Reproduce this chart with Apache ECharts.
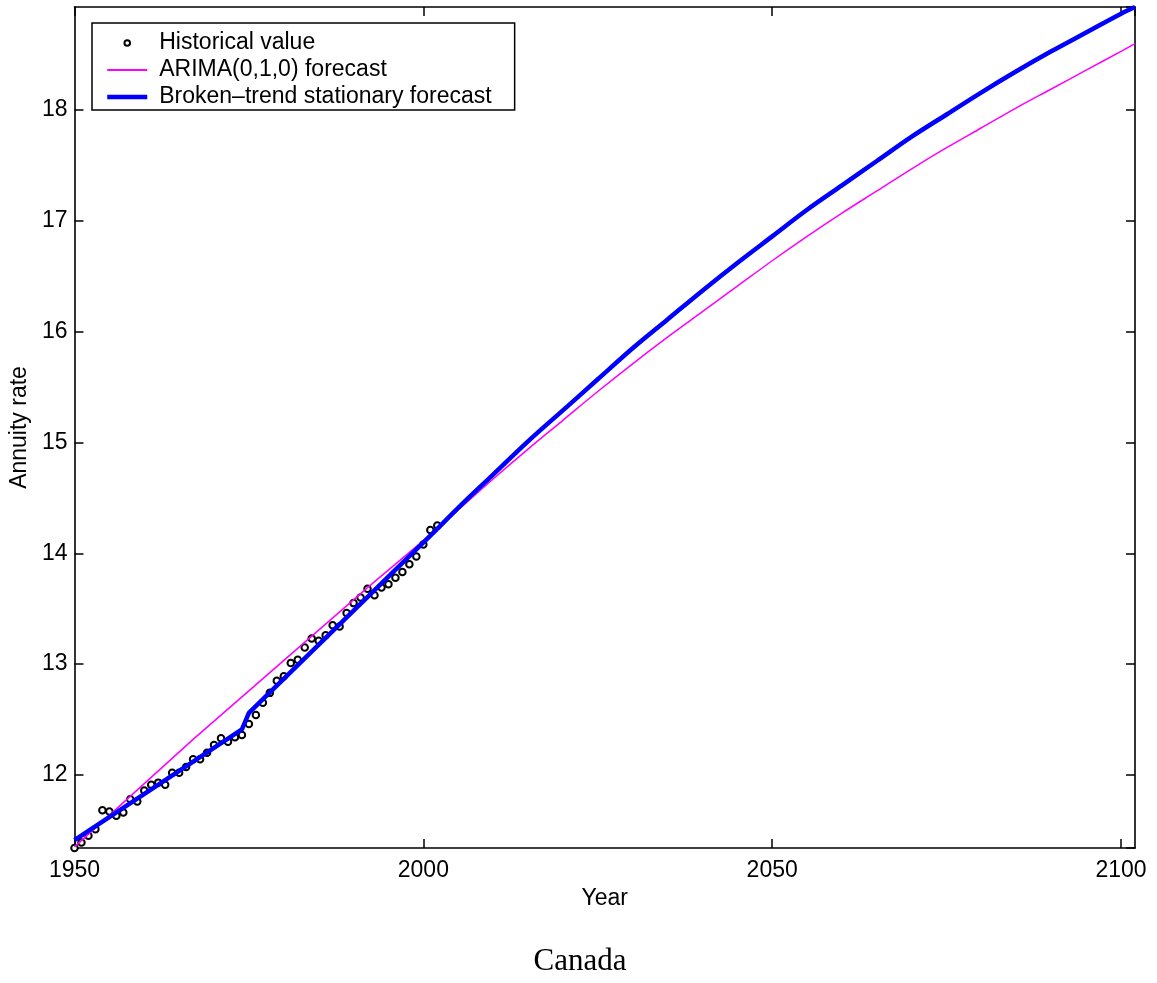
<!DOCTYPE html>
<html>
<head>
<meta charset="utf-8">
<title>Canada annuity rate forecasts</title>
<script src="https://cdn.jsdelivr.net/npm/echarts@6/dist/echarts.min.js"></script>
<style>
  html, body { margin: 0; padding: 0; background: #fff; }
  #chart { width: 1157px; height: 983px; }
</style>
</head>
<body>
<div id="chart"></div>
<script>
// Historical annuity rates, one value per year starting at histStartYear
const histStartYear = 1950;
const histValues = [
  11.34, 11.39, 11.45, 11.51, 11.68, 11.67, 11.63, 11.66, 11.78, 11.76,
  11.86, 11.91, 11.93, 11.91, 12.02, 12.02, 12.07, 12.14, 12.14, 12.20,
  12.27, 12.33, 12.30, 12.34, 12.36, 12.46, 12.54, 12.65, 12.74, 12.85,
  12.89, 13.01, 13.04, 13.15, 13.23, 13.21, 13.26, 13.35, 13.34, 13.46,
  13.55, 13.60, 13.68, 13.62, 13.69, 13.72, 13.78, 13.83, 13.90, 13.97,
  14.08, 14.21, 14.25
];

// In-sample fitted paths
const arimaFitYears  = [1950, 1967, 1992];
const arimaFitValues = [11.35, 12.32, 13.69];
const trendFitYears  = [1950, 1974, 1975];
const trendFitValues = [11.41, 12.41, 12.56];

// Forecast horizon
const forecastYears = [2002, 2005, 2010, 2015, 2020, 2025, 2030, 2035, 2040, 2045, 2050,
                       2055, 2060, 2065, 2070, 2075, 2080, 2085, 2090, 2095, 2100, 2102];
const arimaForecast = [14.22, 14.39, 14.67, 14.94, 15.20, 15.46, 15.71, 15.95, 16.18, 16.41, 16.64,
                       16.86, 17.07, 17.27, 17.47, 17.66, 17.84, 18.02, 18.19, 18.36, 18.53, 18.60];
const trendForecast = [14.22, 14.41, 14.71, 15.01, 15.29, 15.57, 15.85, 16.11, 16.37, 16.62, 16.86,
                       17.10, 17.32, 17.54, 17.76, 17.96, 18.16, 18.35, 18.53, 18.70, 18.87, 18.93];

// Axis ranges and tick step
const xMin = 1950, xMax = 2102, xStep = 50;
const yMin = 11.34, yMax = 18.93;

const seriesNames = ['Historical value', 'ARIMA(0,1,0) forecast', 'Broken\u2013trend stationary forecast'];

const pairs = (xs, ys) => xs.map((x, i) => [x, ys[i]]);
const histData = histValues.map((v, i) => [histStartYear + i, v]);
// fitted part runs up to the forecast origin, the forecast part continues from it
const arimaFitData = pairs(arimaFitYears, arimaFitValues).concat([[forecastYears[0], arimaForecast[0]]]);
const trendFitData = pairs(trendFitYears, trendFitValues).concat([[forecastYears[0], trendForecast[0]]]);
const arimaFcData = pairs(forecastYears, arimaForecast);
const trendFcData = pairs(forecastYears, trendForecast);

const sans = '"Liberation Sans", Arial, Helvetica, sans-serif';
const black = '#000';
const magenta = '#ff00ff';
const blue = '#0000ff';

const frameAxis = (extra) => Object.assign({
  type: 'value',
  axisLine: { show: true, onZero: false, lineStyle: { color: black, width: 1.6 } },
  axisTick: { show: true, inside: true, length: 9, lineStyle: { color: black, width: 1.5 } },
  splitLine: { show: false },
  axisLabel: { show: false }
}, extra);

const lineSeries = (name, data, color, width, smooth, z) => ({
  name, type: 'line', data, symbol: 'none',
  smooth: smooth ? 0.35 : false,
  lineStyle: { color, width }, itemStyle: { color }, z
});

const chart = echarts.init(document.getElementById('chart'), null, { renderer: 'canvas' });

chart.setOption({
  backgroundColor: '#fff',
  animation: false,
  textStyle: { fontFamily: sans },
  grid: { left: 71, right: 22, top: 7, bottom: 135, containLabel: false },
  xAxis: [
    frameAxis({
      position: 'bottom', min: xMin, max: xMax, interval: xStep,
      name: 'Year', nameLocation: 'middle', nameGap: 37,
      nameTextStyle: { fontSize: 23, color: black, fontFamily: sans },
      axisLabel: { show: true, margin: 11, fontSize: 23, color: black, fontFamily: sans,
                   showMaxLabel: false, formatter: (v) => String(v) }
    }),
    frameAxis({ position: 'top', min: xMin, max: xMax, interval: xStep })
  ],
  yAxis: [
    frameAxis({
      position: 'left', min: yMin, max: yMax, splitNumber: 7,
      name: 'Annuity rate', nameLocation: 'middle', nameGap: 35,
      nameTextStyle: { fontSize: 23, color: black, fontFamily: sans },
      axisLabel: { show: true, margin: 7, fontSize: 23, color: black, fontFamily: sans,
                   showMinLabel: false, showMaxLabel: false }
    }),
    frameAxis({ position: 'right', min: yMin, max: yMax, splitNumber: 7 })
  ],
  legend: {
    orient: 'vertical',
    left: 92, top: 23,
    itemWidth: 40, itemHeight: 7,
    itemGap: 4,
    padding: [8.5, 23, 1.5, 13],
    borderColor: black, borderWidth: 1.5,
    backgroundColor: '#fff',
    selectedMode: false,
    textStyle: { fontSize: 23, color: black, fontFamily: sans, padding: [0, 0, 0, 7] },
    data: [
      { name: seriesNames[0] },
      { name: seriesNames[1], itemStyle: { opacity: 0 }, lineStyle: { width: 2 } },
      { name: seriesNames[2], itemStyle: { opacity: 0 }, lineStyle: { width: 4.5 } }
    ]
  },
  series: [
    {
      name: seriesNames[0], type: 'line', data: histData,
      symbol: 'emptyCircle', symbolSize: 6.5, showSymbol: true, showAllSymbol: true,
      lineStyle: { width: 0, opacity: 0 },
      itemStyle: { color: black, borderColor: black, borderWidth: 1.6 },
      z: 2
    },
    lineSeries(seriesNames[1], arimaFitData, magenta, 1.5, false, 3),
    lineSeries(seriesNames[1], arimaFcData, magenta, 1.5, true, 3),
    lineSeries(seriesNames[2], trendFitData, blue, 4.5, false, 4),
    lineSeries(seriesNames[2], trendFcData, blue, 4.5, true, 4)
  ],
  graphic: [
    {
      type: 'text', x: 580, y: 962, z: 10,
      style: {
        text: 'Canada', fill: black,
        font: '31px "Liberation Serif", "Times New Roman", serif',
        align: 'center', verticalAlign: 'middle',
        textAlign: 'center', textVerticalAlign: 'middle'
      }
    }
  ]
});
</script>
</body>
</html>
